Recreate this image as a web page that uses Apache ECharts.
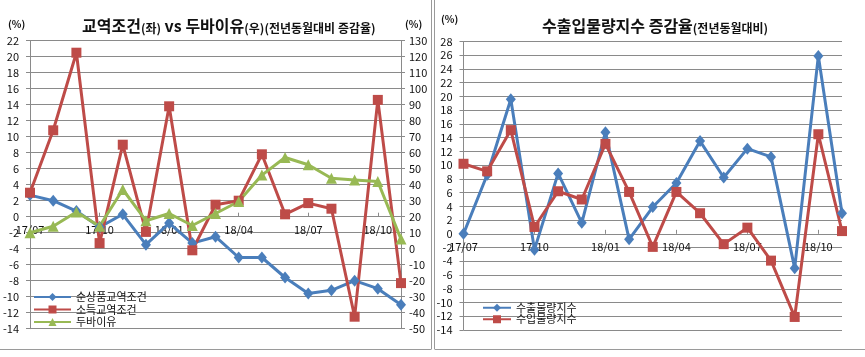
<!DOCTYPE html>
<html><head><meta charset="utf-8">
<script src="https://cdn.jsdelivr.net/npm/echarts@6/dist/echarts.min.js"></script>
<style>html,body{margin:0;padding:0;background:#fff}#c{width:865px;height:357px}</style>
</head><body><div id="c"></div>
<script>
const months = ['17/07','17/08','17/09','17/10','17/11','17/12','18/01','18/02','18/03','18/04','18/05','18/06','18/07','18/08','18/09','18/10','18/11'];
// Left chart: terms of trade (left axis) vs Dubai oil (right axis)
const netTermsOfTrade = [2.7, 2.0, 0.7, -1.3, 0.3, -3.5, -0.8, -3.3, -2.5, -5.1, -5.1, -7.6, -9.6, -9.2, -8.0, -9.0, -11.0];
const incomeTermsOfTrade = [3.0, 10.8, 20.5, -3.3, 9.0, -1.9, 13.8, -4.2, 1.5, 2.0, 7.8, 0.3, 1.7, 1.0, -12.5, 14.6, -8.3];
const dubaiOil = [10, 14, 23, 14, 37, 17.5, 22, 14.5, 22, 29.5, 46, 57, 52.5, 44, 43, 42, 6];
// Right chart: export / import volume index growth
const exportVolume = [0, 8.6, 19.6, -2.3, 8.8, 1.6, 14.8, -0.8, 3.9, 7.4, 13.5, 8.2, 12.4, 11.2, -5.0, 25.9, 3.0];
const importVolume = [10.2, 9.1, 15.1, 1.0, 6.2, 5.0, 13.1, 6.1, -1.9, 6.1, 3.0, -1.5, 0.9, -3.9, -12.1, 14.5, 0.4];

const FONT = '"Noto Sans CJK KR", "Noto Sans", sans-serif';
const BLUE = '#4A7EBB', RED = '#BE4B48', GREEN = '#98B954';
const GRID = '#8a8a8a';
const chart = echarts.init(document.getElementById('c'), null, {renderer: 'canvas'});

// grid geometry
const G0 = {left: 28, right: 464, top: 40.7, bottom: 28.3};
const G1 = {left: 463.5, right: 23, top: 41.5, bottom: 27};
const H = 357;
// x axis sits on the zero line of the left value axis
function zeroOffset(g, min, max) {
  const h = H - g.top - g.bottom;
  const zeroY = g.top + (max / (max - min)) * h;
  return -((H - g.bottom) - zeroY);
}

function lineSeries(name, data, color, symbol, size, xi, yi) {
  return {name, type: 'line', data, xAxisIndex: xi, yAxisIndex: yi,
    symbol, symbolSize: size, showSymbol: true,
    lineStyle: {color, width: 3}, itemStyle: {color, borderWidth: 0},
    emphasis: {disabled: true}, animation: false};
}
function xAxis(gi, g, min, max, margin) {
  return {
    gridIndex: gi, type: 'category', data: months, boundaryGap: false, position: 'bottom',
    offset: zeroOffset(g, min, max),
    axisLine: {show: true, onZero: false, lineStyle: {color: GRID}},
    axisTick: {show: true, inside: true, length: 4, interval: 2, lineStyle: {color: GRID}},
    axisLabel: {interval: 2, fontSize: 11, color: '#111', fontFamily: FONT, margin},
    splitLine: {show: false}
  };
}
const yLabel = {fontSize: 11, color: '#111', fontFamily: FONT};
const richTitle = {
  a: {fontSize: 16, fontWeight: 'bold', color: '#111', fontFamily: FONT, verticalAlign: 'bottom', lineHeight: 21},
  b: {fontSize: 12, fontWeight: 'bold', color: '#111', fontFamily: FONT, verticalAlign: 'bottom', lineHeight: 18}
};

chart.setOption({
  animation: false,
  textStyle: {fontFamily: FONT},
  title: [
    {left: 77, top: 8, text: '{a|교역조건}{b|(좌)}{a| vs 두바이유}{b|(우)(전년동월대비 증감율)}', textStyle: {rich: richTitle}},
    {left: 537, top: 8, text: '{a|수출입물량지수 증감율}{b|(전년동월대비)}', textStyle: {rich: richTitle}}
  ],
  legend: [
    {data: ['순상품교역조건', '소득교역조건', '두바이유'], orient: 'vertical', left: 28, top: 286,
     itemWidth: 37, itemHeight: 10, itemGap: 0.5,
     textStyle: {fontSize: 11, color: '#111', fontFamily: FONT, lineHeight: 12}},
    {data: ['수출물량지수', '수입물량지수'], orient: 'vertical', left: 477, top: 297,
     itemWidth: 28, itemHeight: 10, itemGap: 0,
     textStyle: {fontSize: 11, color: '#111', fontFamily: FONT, lineHeight: 11.5}}
  ],
  grid: [G0, G1],
  xAxis: [xAxis(0, G0, -14, 22, 8), xAxis(1, G1, -14, 28, 7)],
  yAxis: [
    {gridIndex: 0, type: 'value', min: -14, max: 22, interval: 2, position: 'left',
     axisLine: {show: true, lineStyle: {color: GRID}}, axisTick: {show: true, length: 4, lineStyle: {color: GRID}},
     axisLabel: Object.assign({margin: 11}, yLabel), splitLine: {show: true, lineStyle: {color: GRID, width: 1}}},
    {gridIndex: 0, type: 'value', min: -50, max: 130, interval: 10, position: 'right',
     axisLine: {show: true, lineStyle: {color: GRID}}, axisTick: {show: true, length: 4, lineStyle: {color: GRID}},
     axisLabel: Object.assign({margin: 8}, yLabel), splitLine: {show: false}},
    {gridIndex: 1, type: 'value', min: -14, max: 28, interval: 2, position: 'left',
     axisLine: {show: true, lineStyle: {color: GRID}}, axisTick: {show: true, length: 4, lineStyle: {color: GRID}},
     axisLabel: Object.assign({margin: 11}, yLabel), splitLine: {show: true, lineStyle: {color: GRID, width: 1}}}
  ],
  series: [
    lineSeries('순상품교역조건', netTermsOfTrade, BLUE, 'diamond', [10, 12], 0, 0),
    lineSeries('소득교역조건', incomeTermsOfTrade, RED, 'rect', 10, 0, 0),
    lineSeries('두바이유', dubaiOil, GREEN, 'triangle', 11, 0, 1),
    lineSeries('수출물량지수', exportVolume, BLUE, 'diamond', [10, 12], 1, 2),
    lineSeries('수입물량지수', importVolume, RED, 'rect', 10, 1, 2)
  ],
  graphic: [
    {type: 'text', left: 8, top: 19, style: {text: '(%)', font: 'bold 10px ' + FONT, fill: '#111'}},
    {type: 'text', left: 405, top: 19, style: {text: '(%)', font: 'bold 10px ' + FONT, fill: '#111'}},
    {type: 'text', left: 441, top: 14, style: {text: '(%)', font: 'bold 10px ' + FONT, fill: '#111'}},
    {type: 'line', shape: {x1: 431.5, y1: 0, x2: 431.5, y2: 349}, style: {stroke: '#9a9a9a', lineWidth: 1}},
    {type: 'line', shape: {x1: 434.5, y1: 0, x2: 434.5, y2: 349}, style: {stroke: '#9a9a9a', lineWidth: 1}},
    {type: 'line', shape: {x1: 0, y1: 349.5, x2: 431.5, y2: 349.5}, style: {stroke: '#9a9a9a', lineWidth: 1}},
    {type: 'line', shape: {x1: 434.5, y1: 349.5, x2: 865, y2: 349.5}, style: {stroke: '#9a9a9a', lineWidth: 1}}
  ]
});
</script></body></html>
